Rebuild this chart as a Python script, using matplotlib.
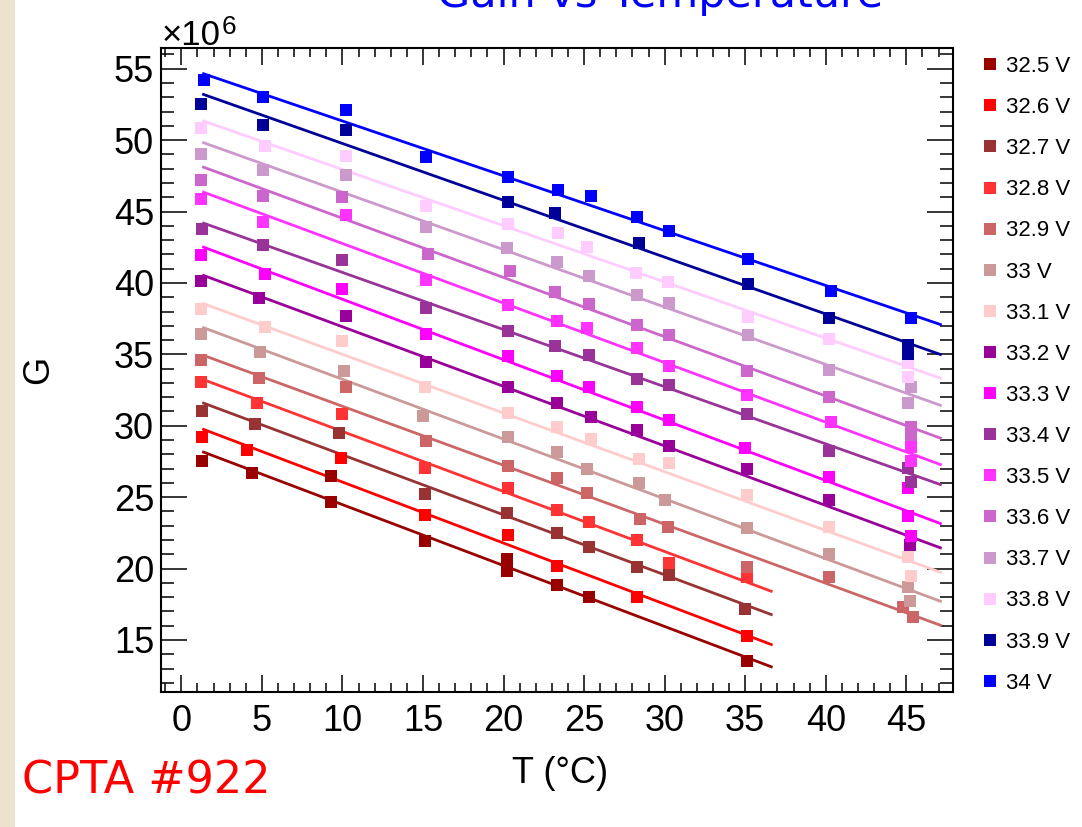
import matplotlib
matplotlib.use("Agg")
import matplotlib.pyplot as plt
from matplotlib.patches import Rectangle
from matplotlib.ticker import MultipleLocator

plt.rcParams['font.family'] = ['Liberation Sans', 'DejaVu Sans']

# ---------------- data (G in units of 10^6) ----------------
voltages = ["32.5 V", "32.6 V", "32.7 V", "32.8 V", "32.9 V", "33 V", "33.1 V", "33.2 V",
            "33.3 V", "33.4 V", "33.5 V", "33.6 V", "33.7 V", "33.8 V", "33.9 V", "34 V"]
colors = ["#990000", "#ff0000", "#993333", "#ff3333", "#cc6666", "#cc9999", "#ffcccc", "#990099",
          "#ff00ff", "#993399", "#ff33ff", "#cc66cc", "#cc99cc", "#ffccff", "#000099", "#0000ff"]

T_325 = [1.3, 4.4, 9.3, 9.3, 15.1, 20.2, 20.2, 23.3, 25.3, 35.1]
G_325 = [27.55, 26.67, 26.48, 24.68, 21.95, 20.65, 19.85, 18.85, 18.03, 13.55]
T_326 = [1.3, 4.1, 9.9, 15.1, 20.3, 23.3, 28.3, 35.1]
G_326 = [29.23, 28.3, 27.77, 23.75, 22.35, 20.18, 17.99, 15.28]
T_327 = [1.3, 4.6, 9.8, 15.1, 20.2, 23.3, 25.3, 28.3, 30.3, 35.0]
G_327 = [31.05, 30.13, 29.47, 25.22, 23.87, 22.51, 21.53, 20.09, 19.55, 17.15]
T_328 = [1.2, 4.7, 10.0, 15.1, 20.3, 23.3, 25.3, 28.3, 30.3, 35.1]
G_328 = [33.03, 31.62, 30.8, 27.07, 25.62, 24.1, 23.28, 22.0, 20.41, 19.43]
T_329 = [1.2, 4.8, 10.2, 15.2, 20.3, 23.3, 25.2, 28.5, 30.2, 35.1, 40.2, 44.8, 45.4]
G_329 = [34.64, 33.37, 32.69, 28.96, 27.18, 26.32, 25.31, 23.45, 22.89, 20.13, 19.39, 17.33, 16.59]
T_330 = [1.2, 4.9, 10.1, 15.0, 20.3, 23.3, 25.2, 28.4, 30.0, 35.1, 40.2, 45.1, 45.2]
G_330 = [36.41, 35.17, 33.86, 30.69, 29.19, 28.19, 26.95, 25.97, 24.8, 22.82, 21.02, 18.73, 17.75]
T_331 = [1.2, 5.2, 10.0, 15.1, 20.3, 23.3, 25.4, 28.4, 30.3, 35.1, 40.2, 45.1, 45.3]
G_331 = [38.2, 36.9, 35.96, 32.69, 30.92, 29.94, 29.05, 27.65, 27.37, 25.15, 22.93, 20.84, 19.48]
T_332 = [1.2, 4.8, 10.2, 15.2, 20.3, 23.3, 25.4, 28.3, 30.3, 35.1, 40.2, 45.2]
G_332 = [40.16, 38.93, 37.69, 34.49, 32.69, 31.62, 30.64, 29.71, 28.59, 26.95, 24.8, 21.65]
T_333 = [1.2, 5.2, 10.0, 15.2, 20.3, 23.3, 25.3, 28.3, 30.3, 35.0, 40.2, 45.1, 45.1, 45.3]
G_333 = [41.95, 40.63, 39.6, 36.43, 34.89, 33.49, 32.69, 31.34, 30.41, 28.42, 26.44, 25.62, 23.68, 22.28]
T_334 = [1.3, 5.1, 10.0, 15.2, 20.3, 23.2, 25.3, 28.3, 30.3, 35.1, 40.2, 45.1, 45.3]
G_334 = [43.75, 42.66, 41.6, 38.23, 36.66, 35.59, 34.96, 33.25, 32.86, 30.83, 28.26, 27.02, 26.09]
T_335 = [1.2, 5.1, 10.2, 15.2, 20.3, 23.3, 25.2, 28.3, 30.3, 35.1, 40.3, 45.3, 45.3]
G_335 = [45.9, 44.29, 44.76, 40.21, 38.46, 37.36, 36.82, 35.42, 34.19, 32.16, 30.29, 28.54, 27.56]
T_336 = [1.2, 5.1, 10.0, 15.3, 20.4, 23.2, 25.3, 28.3, 30.3, 35.1, 40.2, 45.3, 45.3]
G_336 = [47.2, 46.1, 46.04, 42.0, 40.86, 39.39, 38.53, 37.06, 36.36, 33.86, 31.99, 29.94, 29.36]
T_337 = [1.2, 5.1, 10.2, 15.2, 20.2, 23.3, 25.3, 28.3, 30.3, 35.2, 40.2, 45.3, 45.1]
G_337 = [49.06, 47.9, 47.54, 43.94, 42.43, 41.49, 40.49, 39.16, 38.62, 36.36, 33.9, 32.69, 31.57]
T_338 = [1.2, 5.2, 10.2, 15.2, 20.3, 23.4, 25.2, 28.2, 30.2, 35.2, 40.2, 45.1, 45.1]
G_338 = [50.88, 49.57, 48.87, 45.41, 44.13, 43.48, 42.5, 40.68, 40.09, 37.64, 36.1, 34.37, 33.44]
T_339 = [1.2, 5.1, 10.2, 20.3, 23.2, 28.4, 35.2, 40.2, 45.1, 45.1]
G_339 = [52.56, 51.05, 50.69, 45.64, 44.92, 42.77, 39.93, 37.52, 35.66, 35.03]
T_340 = [1.4, 5.1, 10.2, 15.2, 20.3, 23.4, 25.4, 28.3, 30.3, 35.2, 40.3, 45.3]
G_340 = [54.19, 53.04, 52.14, 48.8, 47.44, 46.51, 46.09, 44.64, 43.66, 41.65, 39.46, 37.52]

T_all = [T_325, T_326, T_327, T_328, T_329, T_330, T_331, T_332,
         T_333, T_334, T_335, T_336, T_337, T_338, T_339, T_340]
G_all = [G_325, G_326, G_327, G_328, G_329, G_330, G_331, G_332,
         G_333, G_334, G_335, G_336, G_337, G_338, G_339, G_340]

# linear fit lines: value at start and at end of the fitted range
fit_T_start = [1.3] * 16
fit_T_end = [36.7, 36.7, 36.7, 36.7] + [47.2] * 12
fit_G_start = [28.19, 29.78, 31.62, 33.26, 34.96, 36.9, 38.58, 40.56,
               42.54, 44.22, 46.39, 48.14, 49.85, 51.37, 53.23, 54.68]
fit_G_end = [13.09, 14.65, 16.75, 18.38, 16.0, 17.68, 19.71, 21.42,
             23.12, 25.85, 27.25, 29.1, 31.4, 33.3, 34.96, 37.06]

# ---------------- figure ----------------
W, H = 1082, 827
fig = plt.figure(figsize=(W / 100, H / 100), dpi=100)
fig.patch.set_facecolor("white")
fig.patches.append(Rectangle((0, 0), 15 / W, 1, transform=fig.transFigure,
                             facecolor="#ede3cc", edgecolor="none", zorder=0))

ax = fig.add_axes([161 / W, 1 - 691.7 / H, 792 / W, 643.4 / H])
handles = []
for i in range(16):
    ax.plot([fit_T_start[i], fit_T_end[i]], [fit_G_start[i], fit_G_end[i]],
            color=colors[i], lw=2.0, solid_capstyle="butt", zorder=2)
    h, = ax.plot(T_all[i], G_all[i], linestyle="none", marker="s", markersize=9.3,
                 markeredgewidth=0, color=colors[i], zorder=3)
    handles.append(h)

ax.set_xlim(-1.26, 47.9)
ax.set_ylim(11.38, 56.43)
ax.xaxis.set_major_locator(MultipleLocator(5))
ax.xaxis.set_minor_locator(MultipleLocator(1))
ax.yaxis.set_major_locator(MultipleLocator(5))
ax.yaxis.set_minor_locator(MultipleLocator(1))
for s in ax.spines.values():
    s.set_linewidth(1.5)
ax.tick_params(axis="x", which="major", direction="in", length=12.2, width=1.1,
               top=True, bottom=True, labelsize=26, pad=9)
ax.tick_params(axis="x", which="minor", direction="in", length=6.3, width=1.1,
               top=True, bottom=True)
ax.tick_params(axis="y", which="major", direction="in", length=18.7, width=1.1,
               left=True, right=True, labelsize=26, pad=5)
ax.tick_params(axis="y", which="minor", direction="in", length=9.4, width=1.1,
               left=True, right=True)

ax.set_xlabel("T (°C)", fontsize=26)
ax.xaxis.set_label_coords(0.504, -0.1)
ax.set_ylabel("G", fontsize=26)
ax.yaxis.set_label_coords(-0.133, 0.5)

t1 = fig.text(162 / W, 1 - 45 / H, "×10", fontsize=25, ha="left", va="baseline")
ax.annotate("6", xy=(1.0, 1.0), xycoords=t1, xytext=(0.5, 3), textcoords="offset points",
            fontsize=19, ha="left", va="top", annotation_clip=False)

fig.text(660 / W, 1 - 7 / H, "Gain vs Temperature", fontsize=31, color="#0000ff",
         ha="center", va="baseline", family="DejaVu Sans")
fig.text(22 / W, 1 - 793 / H, "CPTA #922", fontsize=32, color="#ff0000",
         ha="left", va="baseline", family="DejaVu Sans")

leg = fig.legend(handles, voltages, loc="upper left",
                 bbox_to_anchor=(983 / W, 1 - 56 / H), bbox_transform=fig.transFigure,
                 frameon=False, fontsize=16, handlelength=0.6, handletextpad=0.42,
                 borderpad=0, borderaxespad=0, labelspacing=0.905, markerscale=1.0)

fig.savefig("out.png", dpi=100)
